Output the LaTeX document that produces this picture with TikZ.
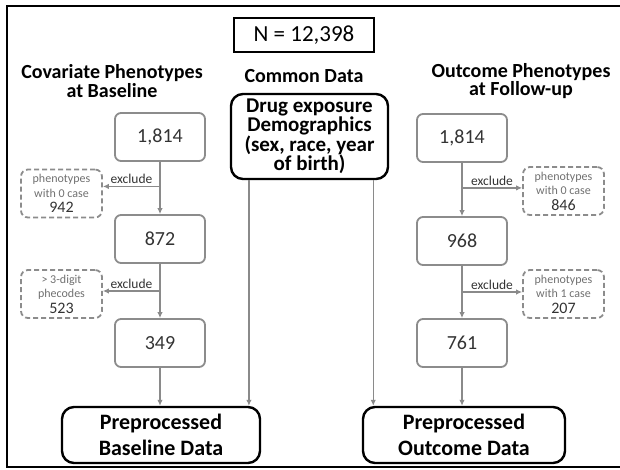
\documentclass[tikz,border=0pt]{standalone}
\usepackage{fontspec}
\setmainfont{Carlito}
\usetikzlibrary{calc,arrows.meta}
\definecolor{boxgray}{HTML}{8C8C8C}
\definecolor{linegray}{HTML}{8A8A8A}
\definecolor{numgray}{HTML}{333333}
\definecolor{notegray}{HTML}{707070}
\newcommand{\dropnum}[1]{{\color{numgray}\fontsize{16}{16}\selectfont #1}}
\begin{document}
\begin{tikzpicture}[x=1pt, y=-1pt,
  countbox/.style={draw=boxgray, line width=1.8pt, rounded corners=6pt, minimum width=90pt, minimum height=48pt, text=numgray, font=\fontsize{20}{24}\selectfont},
  dropbox/.style={draw=boxgray, dash pattern=on 5pt off 3pt, line width=1.8pt, rounded corners=7pt, minimum width=81pt, minimum height=48pt, align=center, inner sep=1pt, text=notegray, font=\fontsize{12}{14.5}\selectfont},
  databox/.style={draw, line width=2.4pt, rounded corners=12pt, align=center, font=\bfseries\fontsize{22}{26}\selectfont},
  heading/.style={align=center, inner sep=0pt, font=\bfseries\fontsize{20}{15.5}\selectfont},
  flow/.style={draw=linegray, line width=1.5pt, -{Latex[length=6pt,width=5.5pt]}},
  exclabel/.style={text=numgray, inner sep=2pt, font=\fontsize{13.5}{14}\selectfont}
]
\useasboundingbox (0,0) rectangle (620,469);
\draw[line width=2pt] (7,6) rectangle (640,467);
\node[draw, line width=1.6pt, minimum width=140pt, minimum height=34pt, font=\fontsize{23}{26}\selectfont] (total) at (304,35) {N = 12,398};

\node[heading] (covhead) at (112,81) {Covariate Phenotypes\\at Baseline};
\node[heading, anchor=base] (comhead) at (304,82) {Common Data};
\node[heading] (outhead) at (521,81) {Outcome Phenotypes\\at Follow-up};

\node[databox, minimum width=157pt, minimum height=85pt, inner sep=1pt, font=\bfseries\fontsize{21}{19}\selectfont] (common) at (309.5,136.5) {Drug exposure\\Demographics\\(sex, race, year\\of birth)};

\node[countbox] (cov1) at (160,137) {1,814};
\node[countbox] (cov2) at (160,239) {872};
\node[countbox] (cov3) at (160,343) {349};
\node[countbox] (out1) at (462,138) {1,814};
\node[countbox] (out2) at (462,241) {968};
\node[countbox] (out3) at (462,343) {761};

\node[dropbox] (covdrop1) at (61.5,193.5) {phenotypes\\with 0 case\\[1pt]\dropnum{942}};
\node[dropbox] (covdrop2) at (61.5,294) {> 3-digit\\phecodes\\[1pt]\dropnum{523}};
\node[dropbox] (outdrop1) at (563.5,191) {phenotypes\\with 0 case\\[1pt]\dropnum{846}};
\node[dropbox] (outdrop2) at (563.5,294) {phenotypes\\with 1 case\\[1pt]\dropnum{207}};

\node[databox, minimum width=198pt, minimum height=56pt, inner sep=2pt] (covdata) at (161,435) {Preprocessed\\Baseline Data};
\node[databox, minimum width=202pt, minimum height=56pt, inner sep=2pt] (outdata) at (464,435) {Preprocessed\\Outcome Data};

\foreach \col/\side in {cov/east, out/west} {
  \draw[flow] (\col1.south) -- (\col2.north);
  \draw[flow] (\col2.south) -- (\col3.north);
  \draw[flow] (\col3.south) -- (\col3.south |- \col data.north);
  \coordinate (\col ex1) at ($(\col1.south)!0.47!(\col2.north)$);
  \coordinate (\col ex2) at ($(\col2.south)!0.5!(\col3.north)$);
  \draw[flow] (\col ex1) -- node[exclabel, above] {exclude} (\col ex1 -| \col drop1.\side);
  \draw[flow] (\col ex2) -- node[exclabel, above] {exclude} (\col ex2 -| \col drop2.\side);
}
\coordinate (common1) at ($(common.south west)!0.12!(common.south east)$);
\coordinate (common2) at ($(common.south west)!0.9!(common.south east)$);
\draw[flow] (common1) -- (common1 |- covdata.north);
\draw[flow] (common2) -- (common2 |- outdata.north);
\end{tikzpicture}
\end{document}
